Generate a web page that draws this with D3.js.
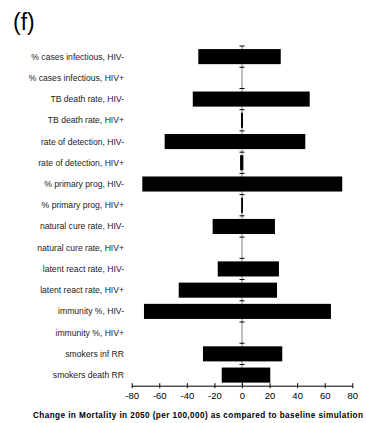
<!DOCTYPE html>
<html><head><meta charset="utf-8">
<script src="https://cdn.jsdelivr.net/npm/d3@7"></script>
<style>body{margin:0;background:#fff;}text{font-family:Arial,"Liberation Sans",sans-serif;}</style>
</head><body>
<script>
const categories = ["% cases infectious, HIV-","% cases infectious, HIV+","TB death rate, HIV-","TB death rate, HIV+","rate of detection, HIV-","rate of detection, HIV+","% primary prog, HIV-","% primary prog, HIV+","natural cure rate, HIV-","natural cure rate, HIV+","latent react rate, HIV-","latent react rate, HIV+","immunity %, HIV-","immunity %, HIV+","smokers inf RR","smokers death RR"];
const lowValues  = [-31.7, 0, -35.7, -0.7, -56.1, -1.4, -72.3, -0.6, -21.3, 0, -17.6, -45.9, -71.1, 0, -28.3, -14.7];
const highValues = [ 28.1, 0,  49.1,  0.7,  45.9,  1.0,  72.7,  0.7,  23.9, 0,  26.8,  25.4,  64.5, 0,  29.2,  20.5];
const xTicks = [-80,-60,-40,-20,0,20,40,60,80];
const panelLabel = "(f)";
const xTitle = "Change in Mortality in 2050 (per 100,000) as compared to baseline simulation";

const W = 366, H = 423;
const svg = d3.select("body").append("svg").attr("width", W).attr("height", H);

const x = d3.scaleLinear().domain([-80, 80]).range([131.7, 352.3]);
const y = d3.scaleBand().domain(categories).range([46, 385.7]).paddingInner(0.29).paddingOuter(0.145);
const yb = d3.scaleBand().domain(categories).range([46, 385.7]);

svg.append("text").attr("x", 13).attr("y", 29.5).attr("font-size", 23).attr("fill", "#000").text(panelLabel);

// vertical zero line
svg.append("line").attr("x1", x(0)).attr("x2", x(0)).attr("y1", 46).attr("y2", 385.7)
  .attr("stroke", "#808080").attr("stroke-width", 1);

// bars
svg.selectAll("rect.bar").data(categories).enter().append("rect").attr("class","bar")
  .attr("x", (d,i) => x(lowValues[i]))
  .attr("width", (d,i) => Math.max(0, x(highValues[i]) - x(lowValues[i])))
  .attr("y", d => y(d))
  .attr("height", y.bandwidth())
  .attr("fill", "#000");

// ticks on zero line at band boundaries
const bounds = categories.map(c => yb(c));
svg.selectAll("line.ytick").data(bounds).enter().append("line").attr("class","ytick")
  .attr("x1", x(0) - 2.5).attr("x2", x(0) + 2.5).attr("y1", d => d).attr("y2", d => d)
  .attr("stroke", "#000").attr("stroke-width", 1);

// x axis
const axis = d3.axisBottom(x).tickValues(xTicks).tickSize(0).tickPadding(7).tickFormat(d => String(d));
const gx = svg.append("g").attr("transform", "translate(0,385.7)").call(axis);
gx.select(".domain").attr("stroke", "#000");
gx.selectAll(".tick line").remove();
gx.selectAll(".tick").append("line").attr("y1", -2.5).attr("y2", 2.5).attr("stroke", "#000");
gx.selectAll(".tick text").attr("font-size", 9.5).attr("fill", "#000").attr("font-family", "Arial, 'Liberation Sans', sans-serif");

// category labels
svg.selectAll("text.cat").data(categories).enter().append("text").attr("class","cat")
  .attr("x", 124).attr("y", d => yb(d) + yb.bandwidth()/2 + 3)
  .attr("text-anchor", "end").attr("font-size", 8.6).attr("fill", "#222").text(d => d);

svg.append("text").attr("x", 198).attr("y", 417.5).attr("text-anchor", "middle")
  .attr("font-size", 8.2).attr("font-weight", "bold").attr("fill", "#000")
  .attr("textLength", 330).attr("lengthAdjust", "spacing").text(xTitle);
</script>
</body></html>
